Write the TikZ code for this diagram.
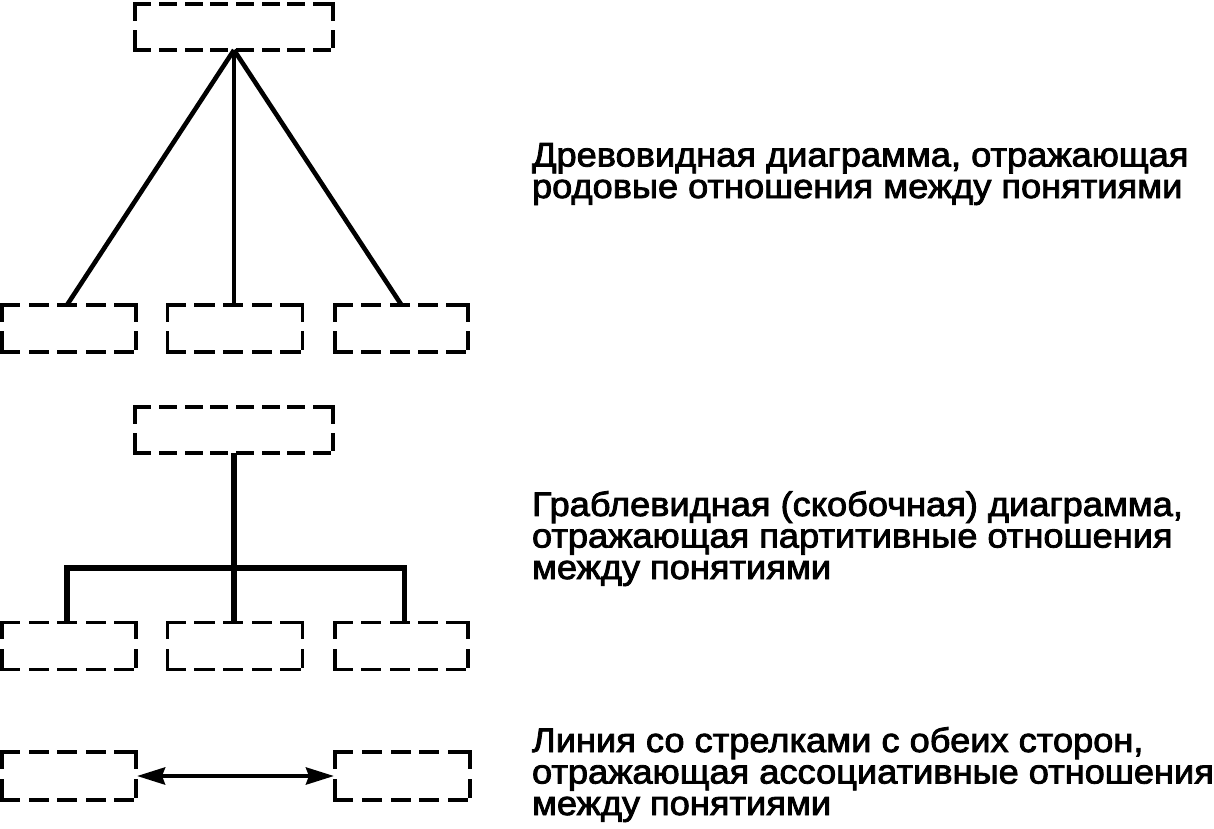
\documentclass[tikz,border=0pt]{standalone}
\usepackage{fontspec}
\setmainfont{Liberation Sans}
\newfontfamily\labelfont{Liberation Sans}[FakeStretch=1.065, FakeBold=2.5]
\usetikzlibrary{arrows.meta}
\tikzset{
  boxnode/.style={draw=none, inner sep=0pt, outer sep=0pt, shape=rectangle},
  boxline/.style={line width=3.8pt, line cap=rect},
  tree/.style={line width=4.6pt},
  rake/.style={line width=5.8pt, line join=miter},
  arr/.style={line width=4.2pt, {Stealth[length=28pt,width=17pt,inset=3pt]}-{Stealth[length=28pt,width=17pt,inset=3pt]}, shorten <=1pt, shorten >=1pt},
  txt/.style={inner sep=0pt, outer sep=0pt, align=left, font=\labelfont\fontsize{34pt}{31.5pt}\selectfont},
}
% name, cx, cy, width, height, dashes across, dashes down
\newcommand\mydbox[7]{%
  \node[boxnode, minimum width=#4pt, minimum height=#5pt] (#1) at (#2,#3) {};
  \pgfmathsetmacro\dbHu{#4/(#6+(#6-1)*0.42)}%
  \pgfmathsetmacro\dbHa{\dbHu-3.8}%
  \pgfmathsetmacro\dbHg{0.42*\dbHu+3.8}%
  \pgfmathsetmacro\dbVu{#5/(#7+(#7-1)*0.5)}%
  \pgfmathsetmacro\dbVa{\dbVu-3.8}%
  \pgfmathsetmacro\dbVg{0.5*\dbVu+3.8}%
  \draw[boxline, dash pattern=on \dbHa pt off \dbHg pt] (#1.north west) -- (#1.north east);
  \draw[boxline, dash pattern=on \dbHa pt off \dbHg pt] (#1.south west) -- (#1.south east);
  \draw[boxline, dash pattern=on \dbVa pt off \dbVg pt] (#1.north west) -- (#1.south west);
  \draw[boxline, dash pattern=on \dbVa pt off \dbVg pt] (#1.north east) -- (#1.south east);
}
\begin{document}
\begin{tikzpicture}[x=1pt, y=-1pt]
\useasboundingbox (0,0) rectangle (1214,828);
% tree diagram
\mydbox{t1}{234}{27}{198}{46}{8}{2}
\mydbox{b1}{69}{328.5}{134}{47}{5}{2}
\mydbox{b2}{235}{328.5}{135}{47}{5}{2}
\mydbox{b3}{401.5}{328.5}{133}{47}{5}{2}
\draw[tree] (t1.south) -- ([xshift=-2pt]b1.north);
\draw[tree] (t1.south) -- ([xshift=-1pt]b2.north);
\draw[tree] (t1.south) -- (b3.north);
% rake diagram
\mydbox{t2}{234}{430}{198}{46}{8}{2}
\mydbox{b4}{69}{646}{134}{47}{5}{2}
\mydbox{b5}{235}{646}{135}{47}{5}{2}
\mydbox{b6}{401.5}{646}{133}{47}{5}{2}
\coordinate (j) at (234,568);
\draw[rake] (t2.south) -- ([xshift=-1pt]b5.north);
\draw[rake] ([xshift=-2pt]b4.north) |- (j) -| ([xshift=3pt]b6.north);
% association
\mydbox{a1}{69}{776}{134}{48}{5}{2}
\mydbox{a2}{402.5}{776}{135}{48}{5}{2}
\draw[arr] (a1.east) -- (a2.west);
% texts (anchor at baseline of last line)
\node[txt, anchor=base west] (l1) at (532,198) {Древовидная диаграмма, отражающая\\родовые отношения между понятиями};
\node[txt, anchor=base west] (l2) at (532,579) {Граблевидная (скобочная) диаграмма,\\отражающая партитивные отношения\\между понятиями};
\node[txt, anchor=base west] (l3) at (532,815) {Линия со стрелками с обеих сторон,\\отражающая ассоциативные отношения\\между понятиями};
\end{tikzpicture}
\end{document}
